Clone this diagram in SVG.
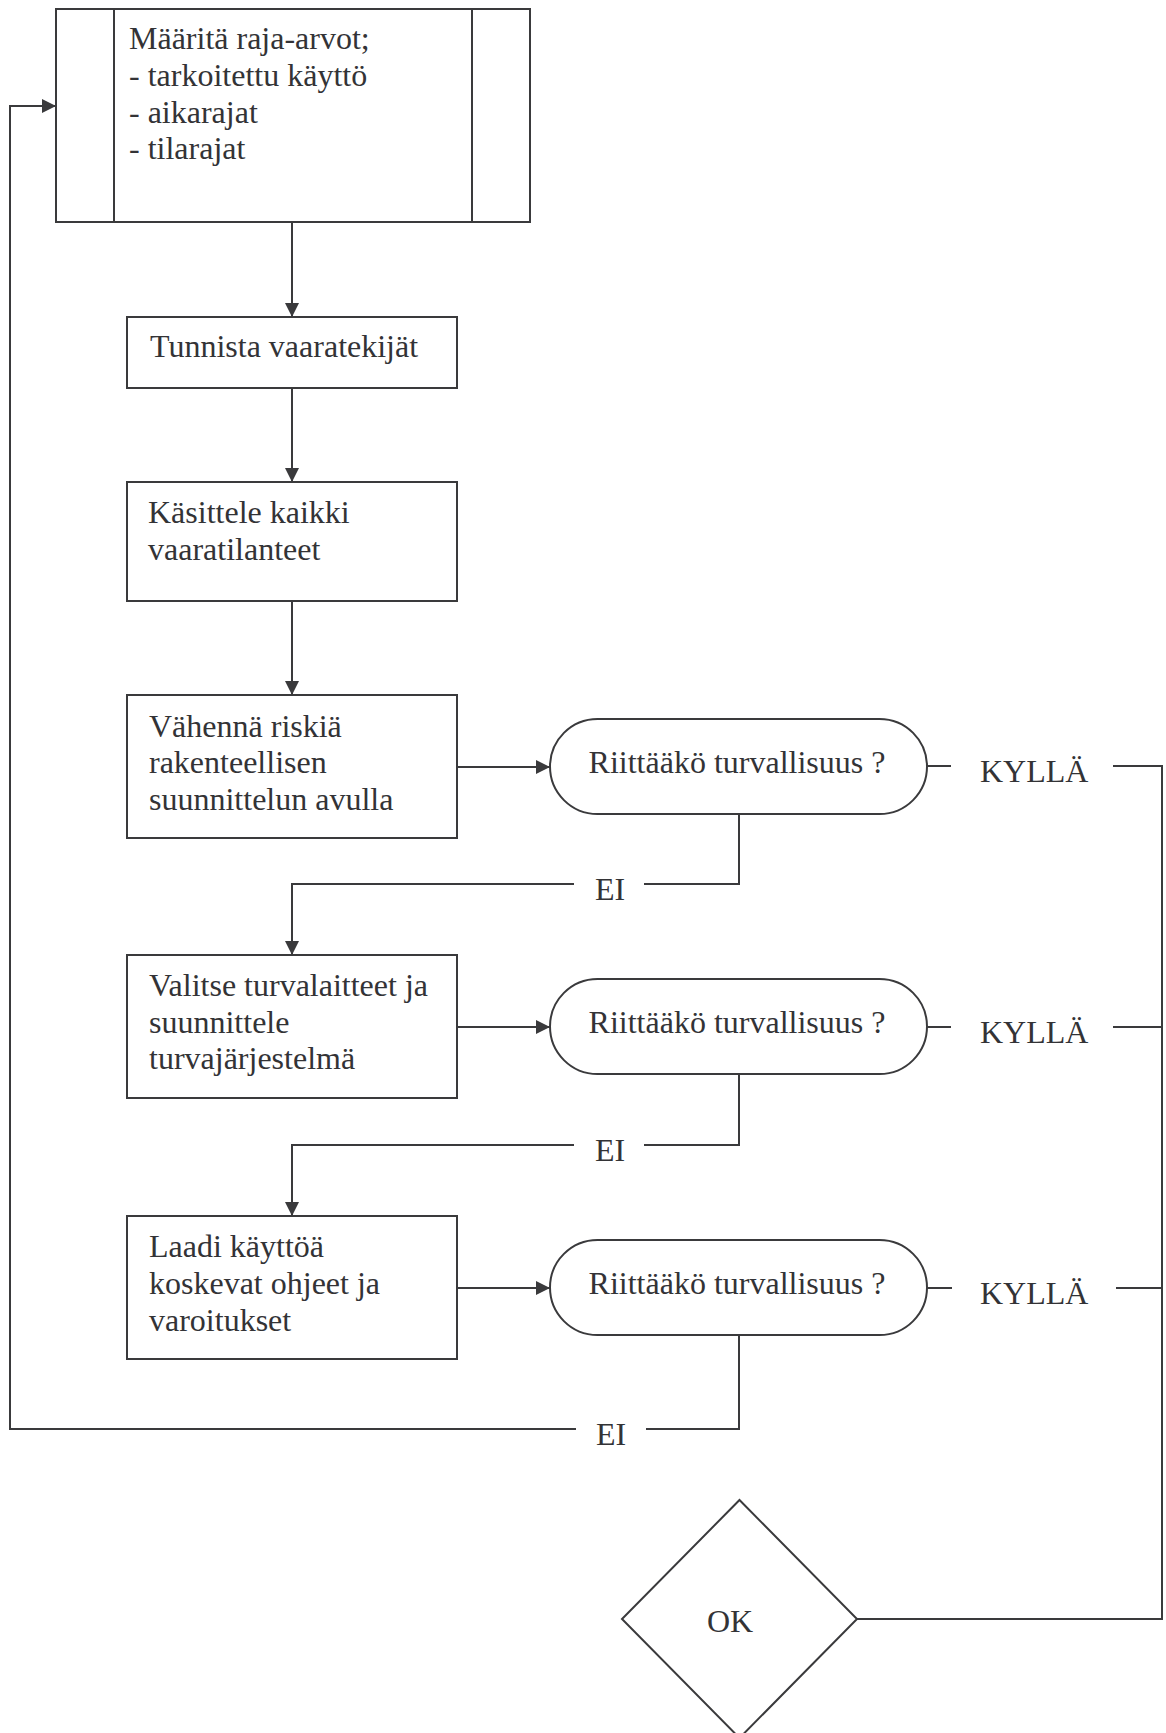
<svg xmlns="http://www.w3.org/2000/svg" width="1166" height="1733" viewBox="0 0 1166 1733">
<style>
.box{fill:#fff;stroke:#3a3a3c;stroke-width:2}
.ln{fill:none;stroke:#3a3a3c;stroke-width:2}
text{font-family:"Liberation Serif","Times New Roman",serif;font-size:32px;fill:#333336}
</style>
<defs>
<marker id="ah" viewBox="0 0 14 14" markerWidth="14" markerHeight="14" refX="14" refY="7" orient="auto" markerUnits="userSpaceOnUse">
<path d="M0,0 L14,7 L0,14 Z" fill="#3a3a3c"/>
</marker>
</defs>
<rect width="1166" height="1733" fill="#fff"/>
<g id="connectors">
<line class="ln" x1="292" y1="222" x2="292" y2="317" marker-end="url(#ah)"/>
<line class="ln" x1="292" y1="388" x2="292" y2="482" marker-end="url(#ah)"/>
<line class="ln" x1="292" y1="601" x2="292" y2="695" marker-end="url(#ah)"/>
<line class="ln" x1="457" y1="767" x2="550" y2="767" marker-end="url(#ah)"/>
<line class="ln" x1="457" y1="1027" x2="550" y2="1027" marker-end="url(#ah)"/>
<line class="ln" x1="457" y1="1288" x2="550" y2="1288" marker-end="url(#ah)"/>
<line class="ln" x1="927" y1="766" x2="951" y2="766"/>
<polyline class="ln" points="1113,766 1162,766 1162,1619 857,1619"/>
<line class="ln" x1="927" y1="1027" x2="951" y2="1027"/>
<line class="ln" x1="1113" y1="1027" x2="1162" y2="1027"/>
<line class="ln" x1="927" y1="1288" x2="952" y2="1288"/>
<line class="ln" x1="1116" y1="1288" x2="1162" y2="1288"/>
<polyline class="ln" points="739,814 739,884 644,884"/>
<polyline class="ln" points="574,884 292,884 292,955" marker-end="url(#ah)"/>
<polyline class="ln" points="739,1074 739,1145 644,1145"/>
<polyline class="ln" points="574,1145 292,1145 292,1216" marker-end="url(#ah)"/>
<polyline class="ln" points="739,1335 739,1429 646,1429"/>
<polyline class="ln" points="576,1429 10,1429 10,106 56,106" marker-end="url(#ah)"/>
<text x="980" y="782">KYLLÄ</text>
<text x="980" y="1043">KYLLÄ</text>
<text x="980" y="1304">KYLLÄ</text>
<text x="595" y="900">EI</text>
<text x="595" y="1161">EI</text>
<text x="596" y="1445">EI</text>
</g>
<g id="n1">
<rect class="box" x="56" y="9" width="474" height="213"/>
<line class="ln" x1="114" y1="9" x2="114" y2="222"/>
<line class="ln" x1="472" y1="9" x2="472" y2="222"/>
<text x="129" y="49">Määritä raja-arvot;</text>
<text x="129" y="86">- tarkoitettu käyttö</text>
<text x="129" y="123">- aikarajat</text>
<text x="129" y="159">- tilarajat</text>
</g>
<g id="n2">
<rect class="box" x="127" y="317" width="330" height="71"/>
<text x="150" y="357">Tunnista vaaratekijät</text>
</g>
<g id="n3">
<rect class="box" x="127" y="482" width="330" height="119"/>
<text x="148" y="523">Käsittele kaikki</text>
<text x="148" y="560">vaaratilanteet</text>
</g>
<g id="n4">
<rect class="box" x="127" y="695" width="330" height="143"/>
<text x="149" y="737">Vähennä riskiä</text>
<text x="149" y="773">rakenteellisen</text>
<text x="149" y="810">suunnittelun avulla</text>
</g>
<g id="d1">
<rect class="box" x="550" y="719" width="377" height="95" rx="47.5" ry="47.5"/>
<text x="737" y="773" text-anchor="middle">Riittääkö turvallisuus ?</text>
</g>
<g id="n5">
<rect class="box" x="127" y="955" width="330" height="143"/>
<text x="149" y="996">Valitse turvalaitteet ja</text>
<text x="149" y="1033">suunnittele</text>
<text x="149" y="1069">turvajärjestelmä</text>
</g>
<g id="d2">
<rect class="box" x="550" y="979" width="377" height="95" rx="47.5" ry="47.5"/>
<text x="737" y="1033" text-anchor="middle">Riittääkö turvallisuus ?</text>
</g>
<g id="n6">
<rect class="box" x="127" y="1216" width="330" height="143"/>
<text x="149" y="1257">Laadi käyttöä</text>
<text x="149" y="1294">koskevat ohjeet ja</text>
<text x="149" y="1331">varoitukset</text>
</g>
<g id="d3">
<rect class="box" x="550" y="1240" width="377" height="95" rx="47.5" ry="47.5"/>
<text x="737" y="1294" text-anchor="middle">Riittääkö turvallisuus ?</text>
</g>
<g id="ok">
<polygon class="box" points="739.5,1500 857,1619 739.5,1738 622,1619"/>
<text x="730" y="1632" text-anchor="middle">OK</text>
</g>
</svg>
